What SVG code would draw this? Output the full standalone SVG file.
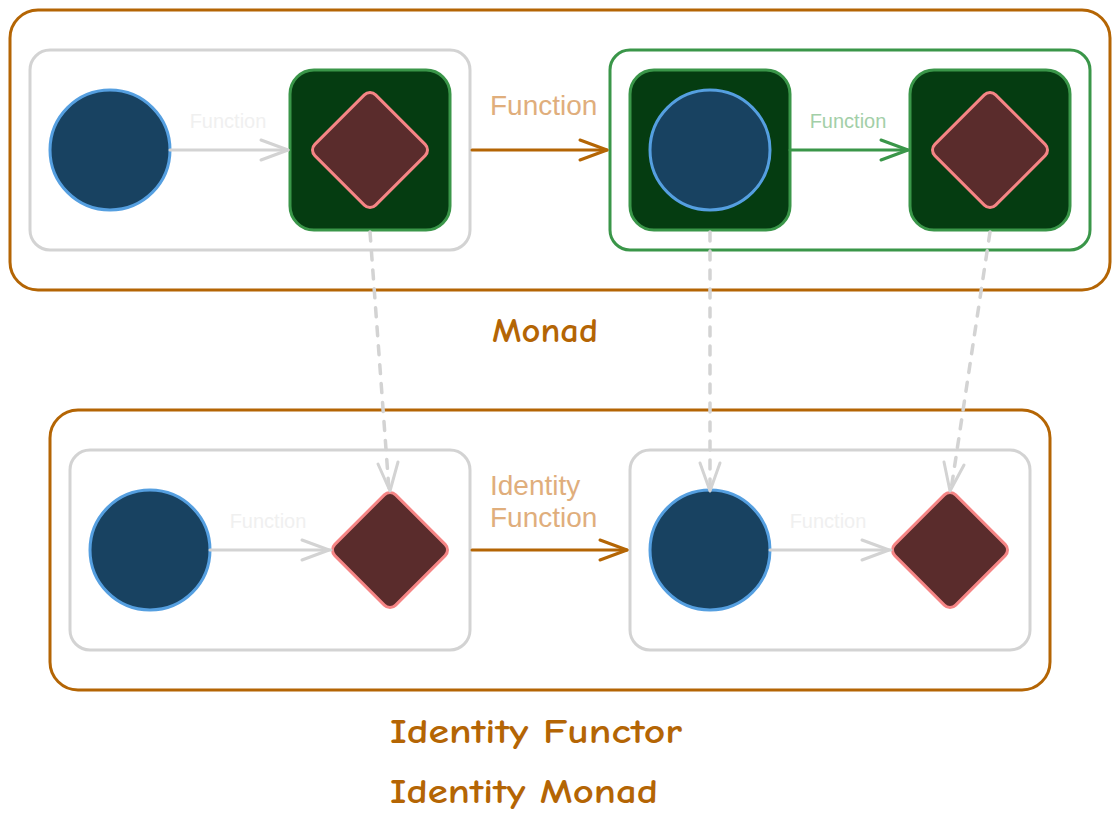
<svg xmlns="http://www.w3.org/2000/svg" width="1120" height="825" viewBox="0 0 1120 825">
  <defs>
    <style>
      .frame { fill: none; stroke: #b46504; stroke-width: 3; }
      .group-gray { fill: #ffffff; stroke: #d3d3d3; stroke-width: 3; }
      .group-green { fill: #ffffff; stroke: #3a9649; stroke-width: 3; }
      .box { fill: #053c11; stroke: #3a9649; stroke-width: 3; }
      .value { fill: #184261; stroke: #559fe0; stroke-width: 3; }
      .result { fill: #5a2c2c; stroke: #f58585; stroke-width: 3; }
      .edge-gray { fill: none; stroke: #d3d3d3; stroke-width: 3; stroke-linecap: round; stroke-linejoin: round; }
      .edge-orange { fill: none; stroke: #b46504; stroke-width: 3; stroke-linecap: round; stroke-linejoin: round; }
      .edge-green { fill: none; stroke: #3a9649; stroke-width: 3; stroke-linecap: round; stroke-linejoin: round; }
      .dashed { stroke-width: 3.5; stroke-dasharray: 9 10; stroke-linecap: round; }
      .lbl-small { font-family: "Liberation Sans", Arial, sans-serif; font-size: 20px; text-anchor: middle; }
      .lbl-big { font-family: "Liberation Sans", Arial, sans-serif; font-size: 28px; fill: #e0ae7c; }
      .title { font-family: "Comic Neue", "Comic Sans MS", "DejaVu Sans", cursive; font-size: 34px; font-weight: bold; fill: #b46504; }
    </style>
  </defs>

  <!-- frames -->
  <g id="monad-frame">
    <rect class="frame" x="10" y="10" width="1100" height="280" rx="28"/>
  </g>
  <g id="identity-frame">
    <rect class="frame" x="50" y="410" width="1000" height="280" rx="28"/>
  </g>

  <!-- top row -->
  <g id="top-left-group">
    <rect class="group-gray" x="30" y="50" width="440" height="200" rx="20"/>
  </g>
  <g id="top-right-group">
    <rect class="group-green" x="610" y="50" width="480" height="200" rx="20"/>
  </g>
  <g id="top-value">
    <circle class="value" cx="110" cy="150" r="60"/>
  </g>
  <g id="top-box-1">
    <rect class="box" x="290" y="70" width="160" height="160" rx="24"/>
    <rect class="result" x="-43" y="-43" width="86" height="86" rx="8" transform="translate(370,150) rotate(45)"/>
  </g>
  <g id="top-box-2">
    <rect class="box" x="630" y="70" width="160" height="160" rx="24"/>
    <circle class="value" cx="710" cy="150" r="60"/>
  </g>
  <g id="top-box-3">
    <rect class="box" x="910" y="70" width="160" height="160" rx="24"/>
    <rect class="result" x="-43" y="-43" width="86" height="86" rx="8" transform="translate(990,150) rotate(45)"/>
  </g>

  <!-- bottom row -->
  <g id="bottom-left-group">
    <rect class="group-gray" x="70" y="450" width="400" height="200" rx="20"/>
  </g>
  <g id="bottom-right-group">
    <rect class="group-gray" x="630" y="450" width="400" height="200" rx="20"/>
  </g>
  <g id="bottom-value-1">
    <circle class="value" cx="150" cy="550" r="60"/>
  </g>
  <g id="bottom-result-1">
    <rect class="result" x="-43" y="-43" width="86" height="86" rx="8" transform="translate(390,550) rotate(45)"/>
  </g>
  <g id="bottom-value-2">
    <circle class="value" cx="710" cy="550" r="60"/>
  </g>
  <g id="bottom-result-2">
    <rect class="result" x="-43" y="-43" width="86" height="86" rx="8" transform="translate(950,550) rotate(45)"/>
  </g>

  <!-- connectors -->
  <g id="connectors">
    <!-- top: value to boxed result -->
    <path class="edge-gray" d="M170 150 H288"/>
    <path class="edge-gray" d="M261 140 L288 150 L261 160"/>
    <!-- top: lift -->
    <path class="edge-orange" d="M472 150 H607"/>
    <path class="edge-orange" d="M580 140 L607 150 L580 160"/>
    <!-- top: boxed value to boxed result -->
    <path class="edge-green" d="M790 150 H908"/>
    <path class="edge-green" d="M881 140 L908 150 L881 160"/>

    <!-- bottom: value to result -->
    <path class="edge-gray" d="M210 550 H331"/>
    <path class="edge-gray" d="M302 540 L329 550 L302 560"/>
    <!-- bottom: identity -->
    <path class="edge-orange" d="M472 550 H627"/>
    <path class="edge-orange" d="M600 540 L627 550 L600 560"/>
    <!-- bottom: value to result -->
    <path class="edge-gray" d="M770 550 H891"/>
    <path class="edge-gray" d="M862 540 L889 550 L862 560"/>

    <!-- vertical correspondences -->
    <path class="edge-gray dashed" d="M370 232 L389 490"/>
    <path class="edge-gray" d="M378 464 L390 491 L398 462"/>
    <path class="edge-gray dashed" d="M710 232 L710 490"/>
    <path class="edge-gray" d="M700 463 L710 491 L720 463"/>
    <path class="edge-gray dashed" d="M990 232 L951 490"/>
    <path class="edge-gray" d="M944 462 L950 491 L964 465"/>
  </g>

  <!-- labels -->
  <g id="labels">
    <text class="lbl-small" x="228" y="128" fill="#f0f0f0">Function</text>
    <text class="lbl-big" x="490" y="115">Function</text>
    <text class="lbl-small" x="848" y="128" fill="#a3cfa8">Function</text>
    <text class="lbl-small" x="268" y="528" fill="#f0f0f0">Function</text>
    <text class="lbl-big" x="490" y="495">Identity</text>
    <text class="lbl-big" x="490" y="527">Function</text>
    <text class="lbl-small" x="828" y="528" fill="#f0f0f0">Function</text>
  </g>

  <g id="titles">
    <text class="title" x="492" y="342" textLength="106" lengthAdjust="spacingAndGlyphs">Monad</text>
    <text class="title" x="390" y="743" textLength="292" lengthAdjust="spacingAndGlyphs">Identity Functor</text>
    <text class="title" x="390" y="803" textLength="268" lengthAdjust="spacingAndGlyphs">Identity Monad</text>
  </g>
</svg>
